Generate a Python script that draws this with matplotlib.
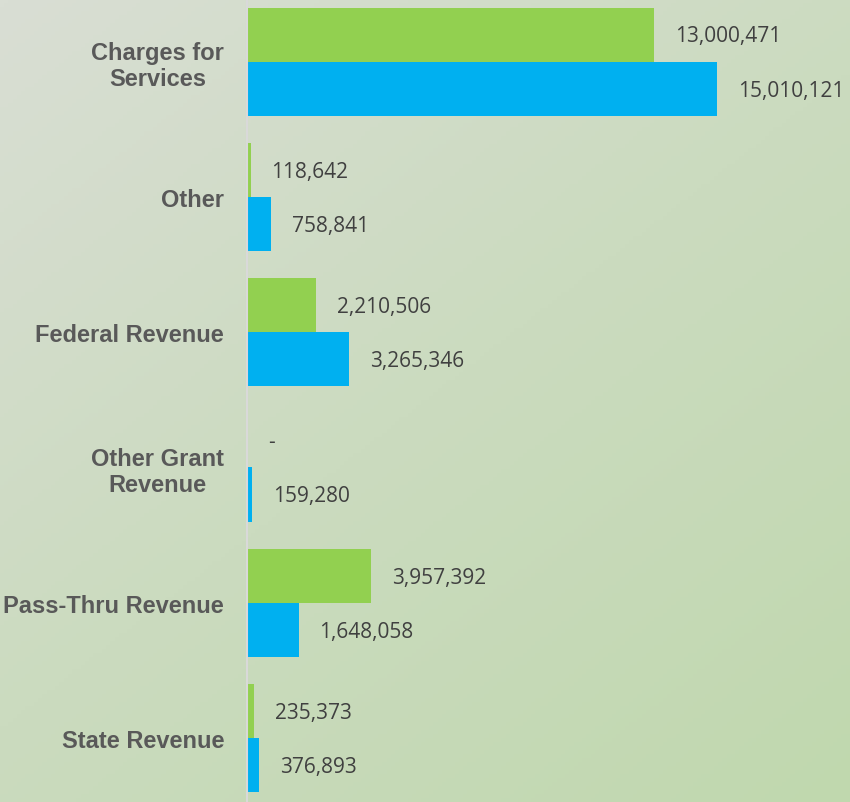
#!/usr/bin/env python3
"""Revenue by source: horizontal grouped bars (green vs blue) on a gradient background."""

import numpy as np
import matplotlib.pyplot as plt
from matplotlib.colors import LinearSegmentedColormap

# Data
categories = ['Charges for\nServices', 'Other', 'Federal Revenue',
              'Other Grant\nRevenue', 'Pass-Thru Revenue', 'State Revenue']
green_values = [13000471, 118642, 2210506, 0, 3957392, 235373]
blue_values = [15010121, 758841, 3265346, 159280, 1648058, 376893]

GREEN = '#92d050'
BLUE = '#00b0f0'
LABEL_GRAY = '#595959'
VALUE_GRAY = '#404040'

W, H = 850, 803
fig = plt.figure(figsize=(W / 100, H / 100), dpi=100)

# Background gradient (top-left grayish -> bottom-right green)
bg = fig.add_axes([0, 0, 1, 1])
bg.set_axis_off()
yy, xx = np.mgrid[0:1:200j, 0:1:200j]
t = (xx * 0.45 + yy * 0.55)
cmap = LinearSegmentedColormap.from_list('bg', ['#d9ded4', '#cbdbbf', '#c0d8ae'])
bg.imshow(t, cmap=cmap, aspect='auto', extent=[0, 1, 1, 0], vmin=0, vmax=1)
bg.set_xlim(0, 1)
bg.set_ylim(1, 0)

# Main axes
px_per_unit = 470 / 15010121
left_px = 247
ax = fig.add_axes([left_px / W, 0, 1 - left_px / W, 1])
ax.patch.set_alpha(0)

y = np.arange(len(categories))
h = 0.4
ax.barh(y - h / 2, green_values, height=h, color=GREEN, zorder=2)
ax.barh(y + h / 2, blue_values, height=h, color=BLUE, zorder=2)

ax.set_xlim(0, (W - left_px) / px_per_unit)
spacing = 135.4
ax.set_ylim(5.5 - 3.7 / spacing, -0.5 + 5 / spacing)

for vals, off in ((green_values, -h / 2), (blue_values, h / 2)):
    for i, v in enumerate(vals):
        txt = f'{v:,}' if v else '-'
        ax.annotate(txt, xy=(v, i + off), xytext=(15, -1), textcoords='offset points',
                    ha='left', va='center', fontsize=15, color=VALUE_GRAY,
                    family='Open Sans')

ax.set_yticks(y)
ax.set_yticklabels(categories, fontsize=17, fontweight='bold', color=LABEL_GRAY,
                   family='Liberation Sans', linespacing=1.15,
                   multialignment='center')
ax.tick_params(axis='y', length=0, pad=16.5)
ax.set_xticks([])
for s in ('top', 'right', 'bottom'):
    ax.spines[s].set_visible(False)
ax.spines['left'].set_color('#d9d9d9')
ax.spines['left'].set_linewidth(1.5)

fig.savefig('out.png', dpi=100)
